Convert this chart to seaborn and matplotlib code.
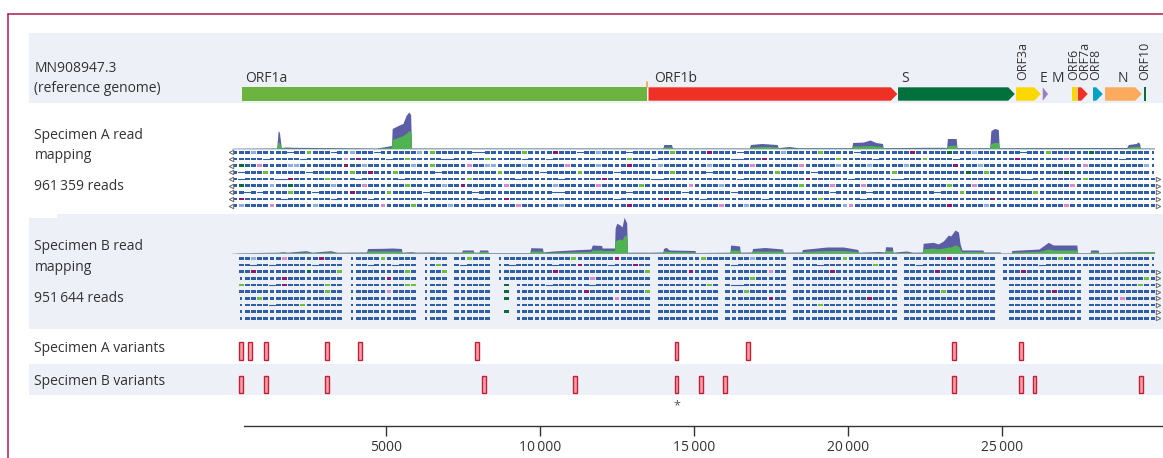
import matplotlib
matplotlib.use('Agg')
import matplotlib.pyplot as plt
import matplotlib.transforms as mtransforms
from matplotlib.patches import Polygon, Rectangle
from matplotlib.lines import Line2D
import seaborn as sns

sns.set_style('white')
plt.rcParams['font.family'] = ['Open Sans', 'DejaVu Sans']

# reference genome annotation (bp)
orf_names = ['ORF1a', 'ORF1b', 'S', 'ORF3a', 'E', 'ORF6', 'ORF7a', 'ORF8', 'N', 'ORF10']
orf_start = [321, 13524, 21625, 25456, 26323, 27275, 27460, 27956, 28347, 29612]
orf_end = [13488, 21602, 25414, 26258, 26495, 27437, 27784, 28271, 29538, 29677]
orf_arrow = [False, True, True, True, True, False, True, True, True, False]
orf_colors = ['#6db33f', '#ee3124', '#00703c', '#fcd800', '#9b7fc0',
              '#fcd800', '#ee3124', '#00a3c4', '#fbaa5e', '#00703c']

label_names = ['ORF1a', 'ORF1b', 'S', 'ORF3a', 'E', 'M', 'ORF6', 'ORF7a', 'ORF8', 'N', 'ORF10']
label_x = [422, 13721, 21742, 25684, 26333, 26820, 27320, 27690, 28040, 28930, 29645]
label_rot = [0, 0, 0, 90, 0, 0, 90, 90, 90, 0, 90]
label_ha = ['left', 'left', 'left', 'center', 'center', 'center', 'center', 'center', 'center', 'center', 'center']

# variant positions (bp)
var_a = [290, 590, 1100, 3075, 4155, 7955, 14430, 16750, 23440, 25610]
var_b = [290, 1100, 3075, 8180, 11135, 14430, 15225, 16015, 23440, 25610, 26055, 29505]
star_pos = [14430]

ticks = [5000, 10000, 15000, 20000, 25000]
tick_labels = ['5000', '10\u2009000', '15\u2009000', '20\u2009000', '25\u2009000']

# coverage depth (relative units)
cov_a_pos = [0, 1450, 1500, 1540, 1600, 1780, 1950, 4700, 5000, 5180, 5200, 5390, 5550, 5650,
             5740, 5800, 5830, 13990, 14020, 14270, 14300, 16800, 16830, 17200, 17450, 17700,
             17730, 18080, 18380, 20120, 20150, 20500, 20715, 20900, 21120, 21140, 22520, 23040,
             23200, 23230, 23510, 23540, 24600, 24640, 24760, 24880, 24910, 27340, 27560, 29050,
             29100, 29350, 29420, 29470, 29490, 29950]
cov_a_tot = [0.3, 0.5, 18, 16, 1, 1.5, 1.2, 0.5, 2, 3, 20, 23, 25, 33,
             36.5, 34, 0.5, 0.5, 4, 4, 0.5, 0.5, 4, 5, 4.5, 4,
             0.8, 2, 0.8, 0.8, 6, 6.5, 8.5, 6, 5, 0.8, 1.2, 1.2,
             1, 10, 10, 0.8, 0.8, 18, 20, 19, 0.8, 1, 1, 1,
             4, 5, 6.5, 5, 0.5, 0.5]
cov_a_grn = [0, 0.2, 7, 6, 0.5, 0.5, 0.3, 0.2, 0.8, 1.2, 9, 11, 13, 15,
             18, 17, 0.2, 0.2, 1.5, 1.5, 0.2, 0.2, 1.5, 2, 2, 1.5,
             0.3, 0.5, 0.3, 0.3, 2.5, 2.5, 3, 2.5, 2, 0.3, 0.3, 0.3,
             0.3, 3, 3.5, 0.3, 0.3, 5, 6, 6, 0.3, 0.3, 0.3, 0.3,
             1.5, 2, 2.5, 2, 0.2, 0.2]

cov_b_pos = [130, 1500, 1650, 1800, 2400, 2600, 3200, 3400, 4370, 4400, 4900, 5200, 5500, 5520,
             5800, 6000, 6450, 6750, 7460, 7480, 7830, 7850, 8020, 8040, 8300, 8320, 9670, 9700,
             10080, 10100, 10420, 11000, 11650, 11700, 12000, 12020, 12420, 12440, 12490, 12600,
             12665, 12730, 12815, 12840, 13300, 13570, 13990, 14010, 14090, 14200, 15030, 15050,
             16170, 16190, 16480, 16500, 16880, 16900, 17300, 17880, 17900, 18500, 18520, 19310,
             19850, 20320, 20340, 21000, 21200, 21220, 21440, 21460, 21900, 22100, 22420, 22440,
             22770, 22930, 23095, 23260, 23335, 23475, 23585, 23640, 23700, 24380, 24400, 24940,
             24960, 25300, 25320, 26200, 26505, 26660, 27430, 27450, 27860, 27880, 28120, 28140,
             29950]
cov_b_tot = [0.3, 0.8, 1.3, 0.8, 2.3, 0.8, 2.3, 0.8, 1, 4.5, 4.7, 5, 4.5, 0.8,
             1.3, 0.8, 1, 0.8, 0.8, 3, 3, 0.8, 0.8, 3, 3, 0.5, 0.5, 5.3,
             5, 1, 2, 3, 4, 8, 7.5, 5, 5, 25, 29.7, 28,
             26, 35.7, 30, 0.8, 0.8, 0.8, 1, 4.5, 5.7, 3, 2.5, 0.5,
             0.8, 8, 7, 0.8, 1, 4.5, 5.5, 4, 0.8, 1, 3.5, 6,
             6, 3.5, 0.8, 1.5, 1, 6.3, 6, 0.8, 2, 0.8, 1, 9.7,
             10.7, 9, 12, 18, 17, 23, 21, 9, 3, 3, 1, 1,
             0.3, 0.3, 2.5, 4, 10.7, 8, 8, 0.5, 0.5, 3, 3, 0.5,
             1.5]
cov_b_grn = [0, 0.3, 0.5, 0.3, 1, 0.3, 1, 0.3, 0.4, 2, 2, 2, 2, 0.3,
             0.5, 0.3, 0.4, 0.3, 0.3, 1.5, 1.5, 0.3, 0.3, 1.5, 1.5, 0.2, 0.2, 2,
             2, 0.4, 0.8, 1.2, 1.5, 3, 3, 2.5, 2.5, 12, 13, 14,
             13, 17, 18, 0.3, 0.3, 0.3, 0.3, 2, 2, 1.5, 1, 0.2,
             0.3, 3, 3, 0.3, 0.3, 2, 2, 2, 0.3, 0.3, 1.5, 2.5,
             2.5, 1.5, 0.3, 0.5, 0.3, 2.5, 2.5, 0.3, 0.8, 0.3, 0.3, 4,
             5, 4, 5, 6, 6, 8, 7, 4, 1.5, 1.5, 0.4, 0.4,
             0, 0, 1, 1.5, 4, 3, 3, 0.2, 0.2, 1.2, 1.2, 0.2,
             1.5]

# read pileup, one character per 200 bp bin
# b blue, l light blue, g green, p purple, k pink, d dark green, - thin line, : short, . none
reads_a = [
    'bbblbbbbb-' 'bbgbbb-bbl' 'bbb-bbbbbb' 'lbgbbbbbb-' '-bbbbbbgbb' 'bbpbbb-bbl' 'bbbb-bbbbb' 'bgbbbbbpbb'
    'bb-bbbbbbl' 'bbbbbgbbbb' 'b-bbbbbbbb' 'pbbbbbdbbb' 'lbbbbbbb-b' 'bbgbbbbbbd' 'bbbbbbbbb:',
    'bbbbb-bbbb' 'b-bbbbbbkb' 'pbbbb-bbgb' 'bbbb--bbbb' 'bgbbbbb-bb' 'b-bbbbbbbb' 'bbbbgbbb-b' 'bbbbbbbbbb'
    'b--bbbpbbb' 'bbbbbbbbgb' 'bbbb-bbbbb' 'bbgbbbb-bb' 'bbbbbbbpbb' 'bbbbbkbbbb' 'bbbb-bbbb:',
    'bdbbkbbbbl' 'lbbbbbbbpb' 'blbbbbbbbl' 'bbgbbbbbkb' 'bllbbbblbb' 'bbbbkbbbbl' 'bbbbpbbbbl' 'bbbbbbblbb'
    'bbbbkbbbbb' 'bbkbbbbblb' 'bbblbbbbbl' 'bbbbbbbpbb' 'blbbbbbbbb' 'bbbbbbbbkb' 'bbbbbbbbl:',
    'b-bbbgbbbb' 'bb-bbbbbbg' 'bbpbbbgbbb' 'bbb-bbbbbb' 'bbbgbbbbbb' '-bbbbbgbbb' 'bb-bbbbbbb' 'bgbbbbb-bb'
    'bbbbbbbbgb' 'bbbb-bbbbb' 'bbbbbbbgbb' 'bbbbbbbbbd' 'bbgbbbbbbb' 'bbbbbdbbbb' 'bbbbbbbbb:',
    'b-bbbbb--p' 'bbbbbgbbbb' '-bbbbbb-bb' 'bbbbbbbbgb' 'bbbbbb-bbb' 'bbb-bbbbbb' 'pbbbbbbb--' 'bbbbbbbbbb'
    'bb-bbbbbbb' 'bbbpbbbbbb' '-bbbbbb--b' 'bbbbbbbbbb' 'bbbbbbbb--' 'bbbbbbbbgb' 'bbbbbbbbbb',
    'bdbbbblbbd' 'bbbbbblbbb' 'bkbbbbbbgb' 'bbbblbbpbb' 'bbbbkbbbbb' 'bblbbbbbbk' 'bbbbbbgbbb' 'bbbbkbbbbl'
    'bbbbbbbbbb' 'bbgbbbbkbb' 'bbkbbbbbbb' 'bbbbbbgbbb' 'kbbbbbbbbb' 'bbbbbbkbbb' 'bbbbbbbbbb',
    'bb-b-bbbbg' 'bbb-bbbbbp' 'bbbbbgbbbb' 'b-bbbbbbb-' 'bbbbbbbbbb' 'bb--bbbbbb' 'bbbb-bbbbb' 'bbb-bbbbbb'
    'b-bbbbbbbb' 'bbbbbbb-bb' 'bbb-bbbbbb' 'bbbb-bbbgb' 'bbbbbbbbbb' 'gbbbbbbbbb' 'bbbbbbbbbb',
    'bpbbbbbb-b' 'bbbbbb-bbb' 'bb-bbbbbbb' 'bbbbbbbbbb' '-bbbpbbbbb' 'bbbbbbbbbb' 'bb-bbbbbbb' 'pbbbbb-bbb'
    'bbbbbb-bbb' 'bbbbbgbbbb' 'bb-bbbbbbb' 'bbbbbbbbbb' 'bbbpbbbbbb' 'bbbbbbbbbb' 'bbbbbbbbbb',
    'blbbbbkbbb' 'bbblbbbbbb' 'bbbbkbbbbg' 'bbbbblbbbb' 'bbbbbbkbbb' 'bbblbbbbbb' 'bbbbpbbbbb' 'bbbbbbbbbk'
    'bbblbbbbbb' 'bbbbbbbbbl' 'kbbbbbbbbb' 'bbbbbbpbbb' 'bblbbbbbbb' 'bbbbbkbbbb' 'bbbbbbbbbb',
]
reads_b = [
    '.bblbbbbkb' 'bbbbpbbb.:' 'bbbbgbbbbb' '.:bbb.bbgb' 'bb.:bbbbbb' 'bbbbbgbbbb' 'bbpbbbbb.b' 'bbbbbbgbbb'
    'bbbblbbbbb' '.bbbbbbbbg' 'bbbbbbbb.b' 'bbbbbbpbbb' 'bbbb.bbbbb' 'bbbbgbbbbb' 'bbbbbbbbb:',
    '.bb-bb-bbb' 'bbb-bbbb.:' 'bb-bbb-bbb' '.:bgb.b-bb' 'bb.:b-bbbb' 'bb-bbbpbbb' 'b-bbbpbb.b' 'bbbbbbbbb.'
    'b-bbbbbbbb' '.bbbb-bbbb' 'bbbbgbbb.b' 'b-bbbbbbbb' 'bbbb.bbbbb' 'b-bbbbbbbb' 'bbbbbbbbb:',
    '.bbpbbbbbb' 'bbdbbbbg.:' 'bbbbbbbbgb' '.:bbg.bbbb' 'bb.:bbbbbb' 'bbpbbbbbbb' 'bbbbbbbg.b' 'bbbbpbbbb.'
    'bbbbbbbkbb' '.bbbbbbpbb' 'bbbbbbbb.b' 'bbbbpbbbbb' 'bbbb.bbbpb' 'bbbbbbbb.b' 'bbbbbbbbbb',
    '.:bbbbbbpb' 'bbbbbbbb.:' 'bbbbbpbbbb' '.:bbb.bbbb' 'bb.:bbbbbb' 'bbbbbbbbkb' 'bbbbbbbb.b' 'bbbbbbbbb.'
    'bbbbgbbbbb' '.bbbbbbbbb' 'bbbbbbbb.b' 'bbbbbbbbbb' 'bbbb.bbbbb' 'bbbbbbbb.b' 'bbbbbbbbgb',
    '.gbbbb-bpb' 'bbbbbgbb.:' 'bbbbbbbbgg' '.:bbb.bbbb' 'bb..d.:bbb' 'b-bbbbbb-b' 'bbbbbbbb.b' 'bbbbbbbgb.'
    'b--bbbbbbb' '.bbbbbbbbb' 'bbbbbbbb.b' 'bbbbbbbbbb' 'bbbb..bbbb' 'bbbbbbbb.b' 'bbbbbbbgbb',
    '.bbbbbbbbb' 'bbbbbgbb.:' 'bbbbbkbbbb' '.:bbb.bbbb' 'bb..d.:bbb' 'bbbbbbbpbb' 'bbbbbbbg.b' 'bbbbbbbbb.'
    'bbbgbbbbbb' '.bbbbbbbbb' 'bbbbbbbb.b' 'bbbbbgbbbb' 'bbbb..bbbb' 'bbbpbbbb.b' 'bbbbbbbbbb',
    '.:bbgbbbbb' 'bbbbbbbb.:' 'bbbbbbbbbb' '.:bbb.bbbb' 'bb..d.:bbb' 'bbbbbbbbbb' 'bbkbbbbb.b' 'bbbbbbbbb.'
    'bbbbbbbpbb' '.bbbbbbbbb' 'bbbpbbbb.b' 'bbbbbbbbbb' 'bbbb..bbbb' 'bbbbbbbb.b' 'bbbbkbbbbb',
    '.:bbbb-bbb' 'bgbbbbbb.:' 'bbbbbbbbbb' '.:bbb.bbbb' 'bb....:bbb' 'bbbbbbbbbb' 'bbbbbbbb.b' 'bbbbbbbbb.'
    'bbbbbbbbbb' '.bbbbgbbbb' 'bbbbbbbb.b' 'bbbbbbbbbb' 'bbbb..bbbb' 'bbbbbbbb.b' 'bbbbbbbbbb',
    '.:bbbbbbbb' 'bbbbbbbb.:' 'bbbbbbbbbb' '.:bbb.bbbb' 'bb..d.:bbb' 'bbbbbbbbbb' 'bbbbbbbb.b' 'bbbbbbbbb.'
    'bbbbbbbbbb' '.bbbbbbbbb' 'bbbbbbbb.b' 'bbbbbbbbbb' 'bbbb..bbbb' 'bbbbbbbb.b' 'bbbbbbbbbb',
    '.:bbbbbbbb' 'bbbbbbbb.:' 'bbbbbbbbbb' '.:bbb.bbbb' 'bb....:bbb' 'bbbbbbbbbb' 'bbbbbbbb.b' 'bbbbbbbbb.'
    'bbbbbbbbbb' '.bbbbbbbbb' 'bbbbbbbb.b' 'bbbbbbbbbb' 'bbbb..bbbb' 'bbbbbbbb.b' 'bbbbbbbbbb',
]
arrows_a = [False, False, False, False, True, True, True, True, True]
arrows_b = [False, False, True, True, True, True, True, True, True, True]

# --- layout (pixel based) ---
W, H = 1163, 458
px_per_bp = 154 / 5000
x0_px = 232
X0 = -x0_px / px_per_bp
X1 = (W - x0_px) / px_per_bp
bin_bp = 200

read_colors = {'b': '#2e5ea9', 'l': '#8fb0da', 'g': '#6cbd40', 'p': '#8a1a6c',
               'k': '#d98cc4', 'd': '#0a6a39'}
band_color = '#eef0f7'
text_color = '#333333'
cov_purple = '#5b5ea6'
cov_green = '#4fb352'

fig = plt.figure(figsize=(W / 100, H / 100), dpi=100)
ax = fig.add_axes([0, 0, 1, 1])
ax.set_xlim(X0, X1)
ax.set_ylim(H, 0)
ax.axis('off')
blend = mtransforms.blended_transform_factory(ax.transAxes, ax.transData)

# frame
fig.add_artist(Line2D([8.4 / W, 8.4 / W], [0, 1 - 13.5 / H], transform=fig.transFigure,
                      color='#b5174b', lw=1.1))
fig.add_artist(Line2D([8.4 / W, 1], [1 - 13.5 / H, 1 - 13.5 / H], transform=fig.transFigure,
                      color='#b5174b', lw=1.1))

# bands
for xl, y_top, y_bot in [(28.5, 33, 103), (28.5, 218, 328.5), (57, 214, 218.5), (28.5, 363.5, 395)]:
    ax.add_patch(Rectangle((xl / W, y_top), 1 - xl / W, y_bot - y_top, transform=blend,
                           facecolor=band_color, edgecolor='none', zorder=0))

# left labels
left_labels = [('MN908947.3', 68.3), ('(reference genome)', 88.3),
               ('Specimen A read', 135.7), ('mapping', 155.7), ('961\u2009359 reads', 186.7),
               ('Specimen B read', 246.7), ('mapping', 267.3), ('951\u2009644 reads', 298.3),
               ('Specimen A variants', 348.3), ('Specimen B variants', 381.7)]
for txt, yy in left_labels:
    ax.text(34.4 / W, yy, txt, transform=blend, ha='left', va='center',
            fontsize=10, color=text_color)

# genome annotation
bar_top, bar_bot = 87.3, 100.7
bar_mid = (bar_top + bar_bot) / 2
tip_bp = 6.5 / px_per_bp
for s, e, arr, c in zip(orf_start, orf_end, orf_arrow, orf_colors):
    if arr:
        t = min(tip_bp, e - s)
        verts = [(s, bar_top), (e - t, bar_top), (e, bar_mid), (e - t, bar_bot), (s, bar_bot)]
    else:
        verts = [(s, bar_top), (e, bar_top), (e, bar_bot), (s, bar_bot)]
    ax.add_patch(Polygon(verts, closed=True, facecolor=c, edgecolor='none', zorder=3))
ax.plot([orf_end[0], orf_end[0]], [81.5, bar_top], color='#f5a04a', lw=1.2, zorder=3)

for name, lx, rot, ha in zip(label_names, label_x, label_rot, label_ha):
    if rot:
        ax.text(lx, 80.5, name, rotation=90, ha='center', va='bottom',
                fontsize=9, color=text_color)
    else:
        ax.text(lx, 81.5, name, ha=ha, va='baseline', fontsize=10, color=text_color)


# coverage tracks
def draw_coverage(pos, tot, grn, base):
    top = [base - v for v in tot]
    gtop = [base - v for v in grn]
    sns.lineplot(x=[0, 29950], y=[base, base], ax=ax, color='#cdd2dc', lw=0.8, zorder=2)
    ax.fill_between(pos, base, top, color=cov_purple, lw=0, zorder=3)
    ax.fill_between(pos, base, gtop, color=cov_green, lw=0, zorder=4)


draw_coverage(cov_a_pos, cov_a_tot, cov_a_grn, 148.5)
draw_coverage(cov_b_pos, cov_b_tot, cov_b_grn, 253.0)


# read pileups
def draw_reads(rows, y_first, arrows, left_marker):
    for r, row in enumerate(rows):
        row = row[:150].ljust(150, '.')
        y = y_first + r * 6.67
        segs = {}
        thin = []
        for i, ch in enumerate(row):
            xs = i * bin_bp
            if ch in read_colors:
                segs.setdefault(ch, []).append((xs + 22, bin_bp - 44))
            elif ch == '-':
                thin.append((xs, xs + bin_bp))
            elif ch == ':':
                segs.setdefault('b', []).append((xs + 60, 80))
        for ch, xr in segs.items():
            ax.broken_barh(xr, (y - 1.2, 2.4), facecolors=read_colors[ch],
                           edgecolor='none', zorder=3)
        for a, b in thin:
            ax.plot([a, b], [y, y], color=read_colors['b'], lw=0.8, zorder=2)
        if left_marker:
            ax.plot([-40], [y], marker='<', ms=3.2, mfc='white', mec='#666666', mew=0.7, zorder=4)
        if arrows[r]:
            ax.plot([30070], [y], marker='>', ms=3.2, mfc='white', mec='#666666', mew=0.7, zorder=4)


draw_reads(reads_a, 152.3, arrows_a, True)
draw_reads(reads_b, 258.3, arrows_b, False)

# variants
var_w = 3.6 / px_per_bp
ax.bar(var_a, height=18, bottom=342, width=var_w, facecolor='#f3a0a6',
       edgecolor='#c41e3a', linewidth=1, zorder=3)
ax.bar(var_b, height=17.5, bottom=375.5, width=var_w, facecolor='#f3a0a6',
       edgecolor='#c41e3a', linewidth=1, zorder=3)
for sp in star_pos:
    ax.text(sp, 406, '*', ha='center', va='center', fontsize=9, color='#555555')

# ruler
rax = fig.add_axes([0, (H - 426) / H, 1, 0.0005])
rax.set_xlim(X0, X1)
rax.patch.set_visible(False)
for side in ['top', 'left', 'right']:
    rax.spines[side].set_visible(False)
rax.spines['bottom'].set_visible(True)
rax.spines['bottom'].set_color('#333333')
rax.spines['bottom'].set_linewidth(1)
rax.spines['bottom'].set_bounds(390, X1)
rax.set_yticks([])
rax.set_xticks(ticks)
rax.set_xticklabels(tick_labels)
rax.tick_params(axis='x', bottom=True, length=7.2, width=1, direction='out', color='#333333',
                labelsize=10, pad=3, labelcolor=text_color)

fig.savefig('out.png', dpi=100)
